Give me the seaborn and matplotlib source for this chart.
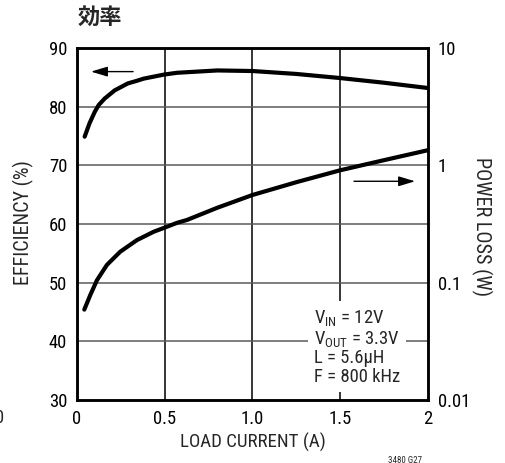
import matplotlib
matplotlib.use("Agg")
import matplotlib.pyplot as plt
import seaborn as sns
import pandas as pd
from matplotlib.ticker import FixedLocator, NullLocator, NullFormatter

# Efficiency (%) versus load current (A)
eff_current = [0.044, 0.072, 0.101, 0.124, 0.158, 0.215, 0.291, 0.338, 0.38,
               0.497, 0.57, 0.8, 1.0, 1.25, 1.5, 1.75, 2.0]
efficiency = [74.9, 77.2, 79.1, 80.3, 81.4, 82.8, 84.0, 84.4, 84.8,
              85.5, 85.8, 86.2, 86.1, 85.6, 84.9, 84.1, 83.2]

# Power loss (W) versus load current (A)
loss_current = [0.042, 0.076, 0.114, 0.171, 0.247, 0.342, 0.437, 0.497, 0.57,
                0.627, 0.8, 1.0, 1.25, 1.5, 1.75, 2.0]
power_loss = [0.059, 0.0785, 0.105, 0.142, 0.184, 0.231, 0.272, 0.294, 0.324,
              0.343, 0.436, 0.56, 0.72, 0.91, 1.11, 1.35]

x_ticks = [0, 0.5, 1.0, 1.5, 2]
x_labels = ["0", "0.5", "1.0", "1.5", "2"]
eff_ticks = [30, 40, 50, 60, 70, 80, 90]
loss_ticks = [0.01, 0.1, 1, 10]
loss_labels = ["0.01", "0.1", "1", "10"]

FONT = "Roboto Condensed"
sns.set_style("white")
plt.rcParams["font.family"] = [FONT, "DejaVu Sans"]
plt.rcParams["mathtext.fontset"] = "custom"
plt.rcParams["mathtext.rm"] = FONT
plt.rcParams["mathtext.it"] = FONT
plt.rcParams["mathtext.default"] = "rm"

FS = 13.4

fig = plt.figure(figsize=(5.06, 4.63), dpi=100)
ax = fig.add_axes([0.152, 0.136, 0.694, 0.760])

eff_df = pd.DataFrame({"current": eff_current, "eff": efficiency})
loss_df = pd.DataFrame({"current": loss_current, "loss": power_loss})

ax.set_xlim(0, 2)
ax.set_ylim(30, 90)
ax.set_xticks(x_ticks)
ax.set_xticklabels(x_labels)
ax.set_yticks(eff_ticks)

# Grid: black verticals, grey horizontals
for xv in [0.5, 1.0, 1.5]:
    ax.axvline(xv, color="black", lw=1.1, zorder=1)
for yv in [40, 50, 60, 70, 80]:
    ax.axhline(yv, color="#5a5a5a", lw=1.1, zorder=1)

sns.lineplot(data=eff_df, x="current", y="eff", ax=ax, color="black",
             lw=3.0, zorder=4, legend=False, solid_joinstyle="round")

ax2 = ax.twinx()
ax2.set_yscale("log")
ax2.set_ylim(0.01, 10)
sns.lineplot(data=loss_df, x="current", y="loss", ax=ax2, color="black",
             lw=3.0, zorder=4, legend=False, solid_joinstyle="round")
ax2.yaxis.set_major_locator(FixedLocator(loss_ticks))
ax2.set_yticklabels(loss_labels)
ax2.yaxis.set_minor_locator(NullLocator())
ax2.yaxis.set_minor_formatter(NullFormatter())
ax2.set_xlim(0, 2)
ax2.set_ylabel("")

for a in (ax, ax2):
    for s in a.spines.values():
        s.set_linewidth(1.8)
        s.set_color("black")
    a.tick_params(length=0, labelsize=FS, colors="black", pad=7)

ax.set_xlabel("LOAD CURRENT (A)", fontsize=13.6, labelpad=4)
ax.set_ylabel("")
fig.text(0.046, 0.52, "EFFICIENCY (%)", rotation=90, fontsize=14.5,
         ha="center", va="center")
fig.text(0.951, 0.51, "POWER LOSS (W)", rotation=-90, fontsize=14.5,
         ha="center", va="center")

# Direction arrows
arrow_style = dict(arrowstyle="-|>,head_length=1.0,head_width=0.3",
                   color="black", lw=1.0, shrinkA=0, shrinkB=0)
ax.annotate("", xy=(0.08, 86.0), xytext=(0.32, 86.0),
            arrowprops=arrow_style, zorder=5)
ax.annotate("", xy=(1.926, 67.3), xytext=(1.578, 67.3),
            arrowprops=arrow_style, zorder=5)

# Operating conditions box
ax.text(0.675, 0.262,
        "V$_{\\mathrm{IN}}$ = 12V\nV$_{\\mathrm{OUT}}$ = 3.3V\nL = 5.6\u00b5H\nF = 800 kHz",
        transform=ax.transAxes, fontsize=FS, ha="left", va="top",
        linespacing=1.05, zorder=6,
        bbox=dict(facecolor="white", edgecolor="none", pad=4))

fig.text(0.153, 0.962, "効率", fontsize=16, fontweight="bold",
         family=["Noto Sans CJK JP", "DejaVu Sans"], ha="left", va="center")
fig.text(0.0, 0.097, "0", fontsize=FS, ha="center", va="center")
fig.text(0.80, 0.006, "3480 G27", fontsize=6.5, ha="center", va="center")

fig.savefig("out.png", dpi=100)
